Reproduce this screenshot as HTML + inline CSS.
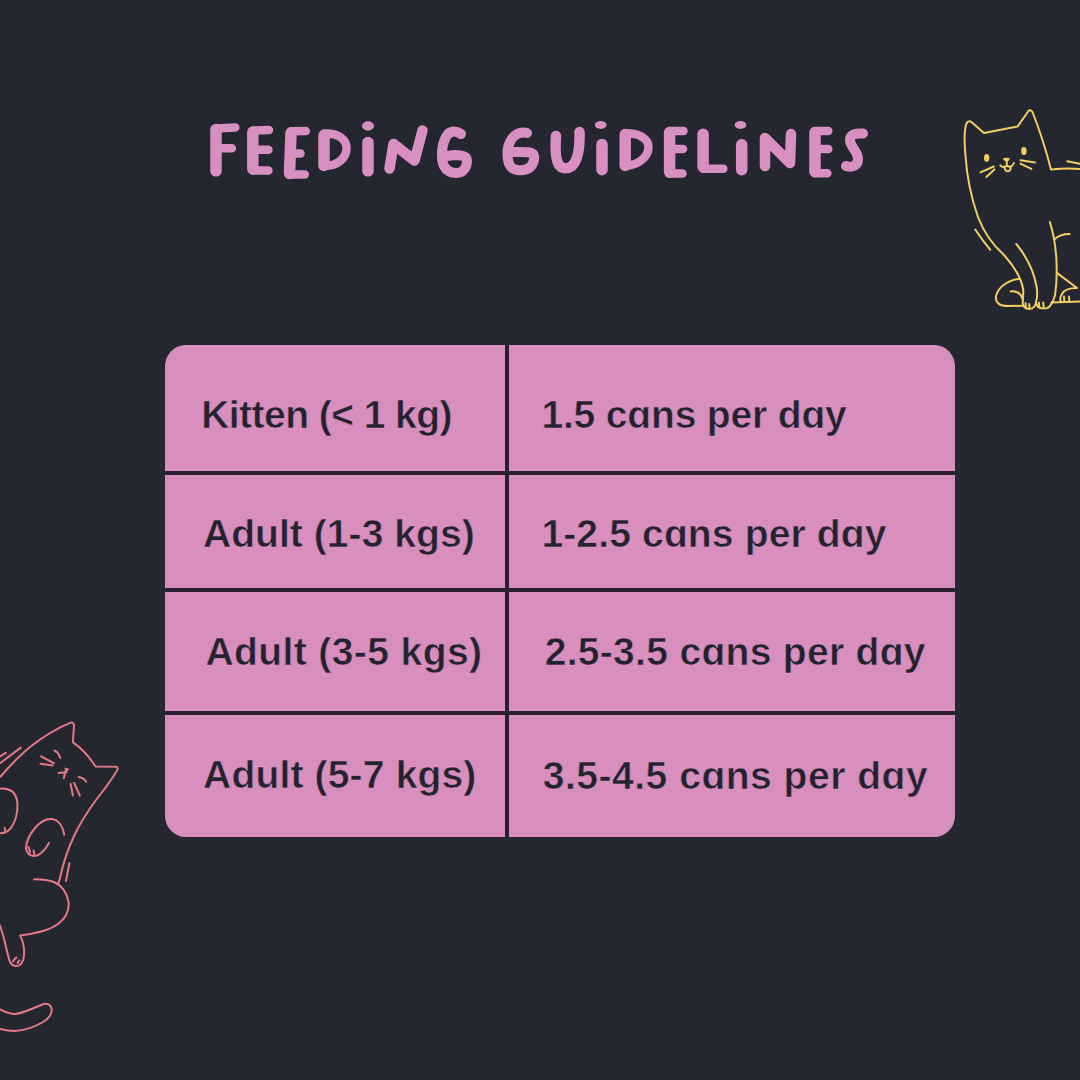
<!DOCTYPE html>
<html><head><meta charset="utf-8">
<style>
html,body{margin:0;padding:0;}
body{width:1080px;height:1080px;background:#242630;position:relative;overflow:hidden;font-family:"Liberation Sans",sans-serif;}
#tbl{position:absolute;left:165px;top:345px;width:790px;height:492px;border-radius:21px;background:#d88fbd;overflow:hidden;}
.vl{position:absolute;background:#2a2030;}
.t{position:absolute;font-weight:bold;font-size:39px;color:#23232e;white-space:nowrap;line-height:1;-webkit-text-stroke:0.6px #d88fbd;}
svg{position:absolute;left:0;top:0;}
</style></head><body>
<svg width="1080" height="1080" viewBox="0 0 1080 1080">
<g fill="none" stroke="#d88fc1" stroke-width="11.5" stroke-linecap="round" stroke-linejoin="round">
<!-- stems -->
<path d="M216,129.5 L216,171"/>
<path d="M252.8,132.3 L252.8,169"/>
<path d="M291,133 L289.5,173.5"/>
<path d="M324,135.5 L324,165.5"/>
<path d="M368,142.5 L368,171"/>
<path d="M602,144.5 L602,169.8"/>
<path d="M625.2,134.6 L625.2,165.4"/>
<path d="M669.6,132.5 L669.6,172.3"/>
<path d="M703.1,134.3 L703.1,167"/>
<path d="M741.7,144.8 L741.7,169.8"/>
<path d="M815,132.5 L815,171.8"/>
</g>
<g fill="none" stroke="#d88fc1" stroke-width="10.5" stroke-linecap="round" stroke-linejoin="round">
<path d="M389.5,168.5 L393.5,144 L414.5,160.5 L422.5,130.5"/>
<path d="M765,166 L765,138 L790,163 L791,134"/>
<path d="M556,136 C555,150 556,162 560,166 C563,169 568,169 572,166 C578,160 580,148 579.5,132"/>
</g>
<g fill="none" stroke="#d88fc1" stroke-width="8.5" stroke-linecap="round" stroke-linejoin="round">
<!-- F bars -->
<path d="M216,128.5 L235.3,127.5 M216,148.2 L231.9,148.2"/>
<!-- E1 bars -->
<path d="M253,130.5 L269,130 M253,149.8 L268.4,149.8 M253,170.5 L268.4,170.5"/>
<!-- E2 bars -->
<path d="M291,131.3 L305.8,131 M290,153.4 L300.5,153.4 M289.5,174.6 L304.8,174.6"/>
<!-- D1 bowl -->
<path d="M324,133.6 C338,133 346.5,139 346.5,148 C346.5,158 338,166 324,166"/>
<!-- D2 bowl -->
<path d="M625.2,133.2 C640,133 648.5,139 648.5,147 C648.5,157 638,165.5 625.2,165.8"/>
<!-- E3 bars -->
<path d="M669.6,131.1 L683.5,131.1 M669.6,149 L683,149 M669.6,173.5 L682.5,173.5"/>
<!-- L bar -->
<path d="M703.1,168.8 L723.3,168.8"/>
<!-- E4 bars -->
<path d="M815,131.1 L828.3,131.1 M815,149 L828.3,149 M815,173.3 L827.3,173.3"/>
</g>
<g fill="none" stroke="#d88fc1" stroke-width="10" stroke-linecap="round" stroke-linejoin="round">
<path d="M461,134 C455,130 449,131 446,137 C441,146 441,160 444,166 C447,172 452,173 457,173 C463,173 467,167 467,161 C467,156 462,155 455,155 L447,156"/>
<path d="M527,133 C520,131 513,135 510,142 C506,150 507,162 511,167 C515,171 522,171 527,169 C532,167 535,161 534,156 C533,152 528,152 520,152 L510,152"/>
<path d="M863,133.5 C856,133 850,134 850,140 C850,147 858,151 858,159 C858,166 852,168 846,166"/>
</g>
<g fill="#d88fc1">
<ellipse cx="368" cy="126" rx="6" ry="4.7"/>
<ellipse cx="600.7" cy="125" rx="5.9" ry="3.9"/>
<ellipse cx="740.5" cy="125" rx="5.9" ry="3.9"/>
</g>
<g fill="none" stroke="#f2cf62" stroke-width="2" stroke-linecap="round" stroke-linejoin="round">
<path d="M1023,300 L1023.3,290 C1021,276 1013,265 1004,255 C995,247 984,233 978,217 C972,200 967,178 965.5,156 C964,140 964,128 967,122.5 Q969,120 972,122.5 L984,133 L1017.5,126.6 L1028.5,111 Q1030.5,109 1032.5,112 C1038,126 1046,150 1051,169.4 C1060,168.5 1070,168 1080,169"/>
<path d="M1067.3,161.3 L1080,163.7"/>
<path d="M980.5,172.3 L993.8,166.5 M986.3,177 L994.4,169.4"/>
<path d="M1020.4,160.2 L1034.9,162.5 M1020.4,163.7 L1031.4,168.9"/>
<path d="M1000.3,165.3 C1002,167.5 1005,167.5 1006.8,165.8 C1009,167.5 1012.5,167 1013.9,163 M1006.8,161.5 L1006.8,165.8 M1004.6,166.6 C1004.6,170 1006,171.3 1007.5,171.3 C1009.5,171.3 1011,169.5 1010.8,166.6"/>
<path d="M975.3,229.5 Q982,240 990.3,249.8"/>
<path d="M1019.8,278.7 C1008,280 998,287 996,296 C995,303 1000,306 1008,306 L1022.5,305.8"/>
<path d="M1010.6,291.4 C1016,291 1021,293 1022.5,299"/>
<path d="M1016.3,244 C1026,256 1034,270 1036.8,288 C1037.5,294 1037,299 1036,301.5"/>
<path d="M1022.8,300 C1022,306 1025,309 1029.5,309 C1033,309 1036,306 1036,301.5 C1036,306 1039,308.5 1044,308.5 C1048,308.5 1051,306 1052,302"/>
<path d="M1025.5,303 L1025.8,307.5 M1029.2,304 L1029.5,308.5 M1039,302.5 L1039.3,307 M1043.3,302.5 L1043.6,307"/>
<path d="M1049.9,222 C1053,232 1055.5,245 1056.3,258 C1057,270 1057,283 1055,295 C1054,299 1053,302 1051,304"/>
<path d="M1054.5,239.4 C1058,236 1063,234 1069.6,234.1"/>
<path d="M1056.9,272.9 L1077,288 C1070,288 1064,290 1062,294 C1060,297 1060,300 1061,302 M1052,302.5 L1080,301.5"/>
<path d="M1064,296.5 L1064.3,301 M1069,296.5 L1069.3,301"/>
</g>
<g fill="#f2cf62">
<ellipse cx="986.7" cy="157.8" rx="2.7" ry="3.9"/>
<ellipse cx="1023.9" cy="151" rx="2.8" ry="4.1"/>
<path d="M1002.6,158.6 Q1006,157 1010,158.3 Q1009,161 1006.8,162 Q1004,161 1002.6,158.6 Z"/>
</g>
<g fill="none" stroke="#e57888" stroke-width="2" stroke-linecap="round" stroke-linejoin="round">
<path d="M0,777 C8,768 20,755 30,747 C44,736 58,728 70.6,722.7 Q73,722 74,725 L72.9,742.4 C80,747 88,755 95.5,766.5 L116.5,766.7 Q118.5,768 117,770.5 C112,779 104,790 96,800 C88,811 80,823 74,836 C68,849 63,864 60.5,876 L58.4,883.5"/>
<path d="M20.8,747.6 L0,763.2 M5.8,752.8 L0,756.3"/>
<path d="M54.4,750.5 Q58.5,752 60.2,758"/>
<path d="M41.1,756.3 L53.8,763.2 M40.5,763.8 L52.7,765.6"/>
<path d="M58.6,772.9 L66.5,772.3 M65.5,771 L63.8,778.3"/>
<path d="M78.7,777 Q84,778 86.2,781.8"/>
<path d="M70.6,784 L72.9,795.6 M74.1,783 L79.9,795.6"/>
<path d="M0,788.7 C8,788 15,791 17,800 C18.5,810 16,822 10,829 C7,832 3,833.5 0,833"/>
<path d="M4.6,827.8 L5.2,831"/>
<path d="M64.2,834.7 C63,827 59,820 52,819 C46,818.5 40,822 35,828 C30,834 26,842 26,848.6 C27,854 31,856 35,856 C40,855.5 45,850 49.2,842.8"/>
<path d="M28.5,847 L30,852 M33.5,850.5 L34.5,855"/>
<path d="M69.4,863 L66,881"/>
<path d="M34.1,879.3 C42,879.5 50,880 55,882.5 C62,886 67,893 68.5,902 C69.5,911 66,918 58,924 C50,930 40,932 30,934 L20.1,935.6 C23,941 25,950 23.5,959 C22,964 19,966 16,966 C12,966 10,963 9,959 C7,952 5,942 3,935 L0,925.5"/>
<path d="M13,961.5 Q14.5,958.5 16.5,957.5 M17.5,963 Q18.5,961 19.5,960.5"/>
<path d="M0,1009.4 C5,1012 10,1014 15,1014 C25,1013 35,1007 44,1004 C48,1003 51,1005 51.7,1009 C52,1014 48,1019 43,1022 C35,1027 25,1030 15,1031 C9,1031 4,1030 0,1029"/>
</g>
<g fill="#e57888"><path d="M64.2,767.6 L69.6,768.8 L66.2,772.6 Z"/></g>
</svg>
<div id="tbl">
<div class="vl" style="left:340px;top:0;width:4px;height:492px"></div>
<div class="vl" style="left:0;top:126px;width:790px;height:4px"></div>
<div class="vl" style="left:0;top:243px;width:790px;height:4px"></div>
<div class="vl" style="left:0;top:366px;width:790px;height:4px"></div>
</div>
<div class="t" style="left:201.20px;top:394.80px;letter-spacing:-0.543px">Kitten (&lt; 1 kg)</div>
<div class="t" style="left:203.00px;top:513.70px;letter-spacing:0.057px">Adult (1-3 kgs)</div>
<div class="t" style="left:205.40px;top:631.70px;letter-spacing:0.414px">Adult (3-5 kgs)</div>
<div class="t" style="left:203.10px;top:754.80px;letter-spacing:0.171px">Adult (5-7 kgs)</div>
<div class="t" style="left:541.40px;top:394.80px;letter-spacing:-0.160px">1.5 c&#593;ns per d&#593;y</div>
<div class="t" style="left:541.40px;top:513.70px;letter-spacing:0.153px">1-2.5 c&#593;ns per d&#593;y</div>
<div class="t" style="left:544.70px;top:631.70px;letter-spacing:0.305px">2.5-3.5 c&#593;ns per d&#593;y</div>
<div class="t" style="left:542.80px;top:756.40px;letter-spacing:0.516px">3.5-4.5 c&#593;ns per d&#593;y</div>
</body></html>
